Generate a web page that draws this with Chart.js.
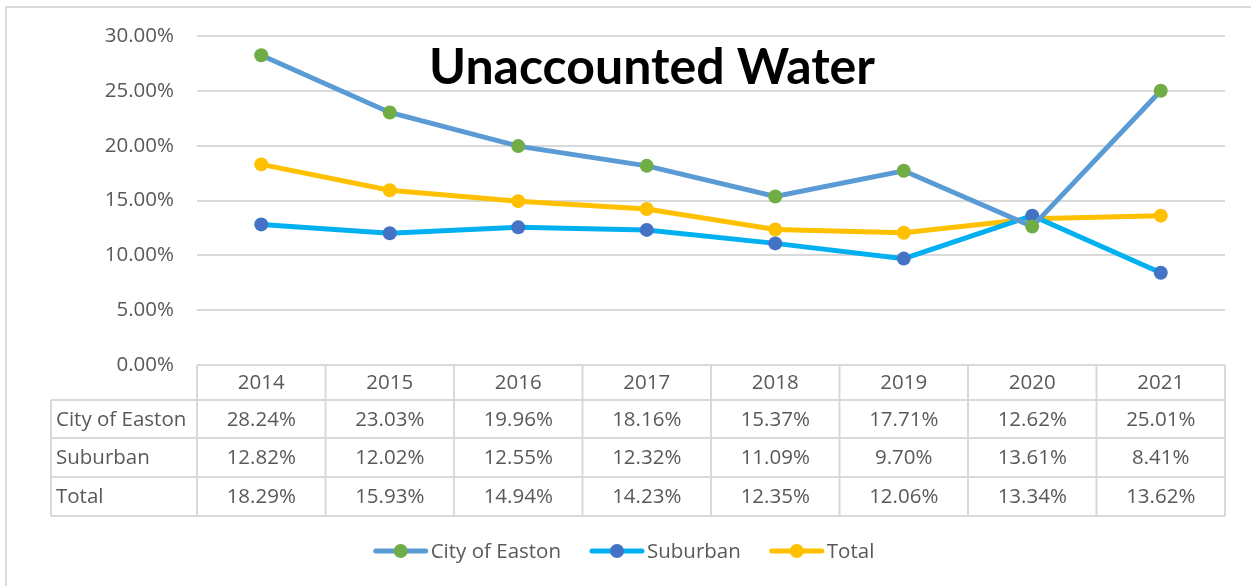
<!DOCTYPE html>
<html>
<head>
<meta charset="utf-8">
<script src="https://cdn.jsdelivr.net/npm/chart.js@4.4.1/dist/chart.umd.min.js"></script>
<style>
  html, body { margin: 0; padding: 0; background: #fff; }
  #wrap { width: 1251px; height: 586px; }
</style>
</head>
<body>
<div id="wrap"><canvas id="mainChart" width="1251" height="586"></canvas></div>
<script>
// Data
const years = ['2014', '2015', '2016', '2017', '2018', '2019', '2020', '2021'];
const cityOfEaston = [28.24, 23.03, 19.96, 18.16, 15.37, 17.71, 12.62, 25.01];
const suburban = [12.82, 12.02, 12.55, 12.32, 11.09, 9.70, 13.61, 8.41];
const total = [18.29, 15.93, 14.94, 14.23, 12.35, 12.06, 13.34, 13.62];
const yTicks = [0, 5, 10, 15, 20, 25, 30];

const seriesNames = ['City of Easton', 'Suburban', 'Total'];
const lineColors = ['#5B9BD5', '#00B0F0', '#FFC000'];
const markerColors = ['#70AD47', '#4472C4', '#FFC000'];
const seriesData = [cityOfEaston, suburban, total];

const textColor = '#595959';
const gridColor = '#D9D9D9';
const fontFamily = '"Open Sans", Lato, sans-serif';
const titleFont = 'Lato, "Open Sans", sans-serif';

function pct(v) { return v.toFixed(2) + '%'; }

// Title, data table, legend and outer frame
const excelExtras = {
    id: 'excelExtras',
    beforeDraw(chart) {
        const c = chart.ctx;
        c.save();
        c.strokeStyle = gridColor;
        c.lineWidth = 2;
        c.strokeRect(6, 7, 1300, 700);
        c.restore();
    },
    afterDraw(chart) {
        const c = chart.ctx;
        const area = chart.chartArea;
        const xs = chart.scales.x;
        const colW = (area.right - area.left) / years.length;
        const labelLeft = 51;
        const rowTops = [area.bottom, 400, 438, 477, 516];

        c.save();
        // title
        c.fillStyle = '#000';
        c.font = 'bold 50px ' + titleFont;
        c.textAlign = 'center';
        c.textBaseline = 'alphabetic';
        c.fillText('Unaccounted Water', 652, 84);

        // table grid
        c.strokeStyle = gridColor;
        c.lineWidth = 2;
        c.beginPath();
        c.moveTo(area.left, rowTops[0]); c.lineTo(area.right, rowTops[0]);
        for (let r = 1; r < rowTops.length; r++) {
            c.moveTo(labelLeft, rowTops[r]); c.lineTo(area.right, rowTops[r]);
        }
        c.moveTo(labelLeft, rowTops[1]); c.lineTo(labelLeft, rowTops[4]);
        for (let i = 0; i <= years.length; i++) {
            const x = area.left + i * colW;
            c.moveTo(x, rowTops[0]); c.lineTo(x, rowTops[4]);
        }
        c.stroke();

        // table text
        c.fillStyle = textColor;
        c.font = '20.5px ' + fontFamily;
        c.textBaseline = 'middle';
        c.textAlign = 'center';
        years.forEach((y, i) => {
            c.fillText(y, xs.getPixelForValue(i), (rowTops[0] + rowTops[1]) / 2 + 1);
        });
        seriesData.forEach((arr, r) => {
            const cy = (rowTops[r + 1] + rowTops[r + 2]) / 2 + 1;
            c.textAlign = 'left';
            c.fillText(seriesNames[r], labelLeft + 5, cy);
            c.textAlign = 'center';
            arr.forEach((v, i) => c.fillText(pct(v), xs.getPixelForValue(i), cy));
        });

        // legend
        const legendY = 551;
        const lineLen = 54, gap = 3, itemGap = 29;
        const widths = seriesNames.map(n => lineLen + gap + c.measureText(n).width);
        const totalW = widths.reduce((a, b) => a + b, 0) + itemGap * (widths.length - 1);
        let lx = 624 - totalW / 2;
        seriesNames.forEach((n, i) => {
            c.strokeStyle = lineColors[i];
            c.lineWidth = 5;
            c.lineCap = 'round';
            c.beginPath();
            c.moveTo(lx + 2, legendY); c.lineTo(lx + lineLen - 2, legendY);
            c.stroke();
            c.fillStyle = markerColors[i];
            c.beginPath();
            c.arc(lx + lineLen / 2, legendY, 7, 0, Math.PI * 2);
            c.fill();
            c.fillStyle = textColor;
            c.textAlign = 'left';
            c.fillText(n, lx + lineLen + gap, legendY + 1);
            lx += widths[i] + itemGap;
        });
        c.restore();
    }
};

const ctx = document.getElementById('mainChart').getContext('2d');
new Chart(ctx, {
    type: 'line',
    data: {
        labels: years,
        datasets: seriesNames.map((name, i) => ({
            label: name,
            data: seriesData[i],
            borderColor: lineColors[i],
            backgroundColor: markerColors[i],
            pointBackgroundColor: markerColors[i],
            pointBorderColor: markerColors[i],
            pointBorderWidth: 0,
            pointRadius: 7,
            borderWidth: 5,
            tension: 0
        }))
    },
    options: {
        responsive: false,
        animation: false,
        layout: { padding: { left: 0, top: 36, right: 26, bottom: 221 } },
        plugins: {
            legend: { display: false },
            title: { display: false },
            tooltip: { enabled: false }
        },
        scales: {
            x: {
                offset: true,
                grid: { display: false },
                border: { display: false },
                ticks: { display: false },
                afterFit(s) { s.height = 0; }
            },
            y: {
                min: 0,
                max: 30,
                afterFit(s) { s.width = 197; },
                afterBuildTicks(s) { s.ticks = yTicks.map(v => ({ value: v })); },
                grid: { color: gridColor, lineWidth: 2, drawTicks: false },
                border: { display: false },
                ticks: {
                    padding: 23,
                    color: textColor,
                    font: { family: fontFamily, size: 20.5 },
                    callback: v => pct(v)
                }
            }
        }
    },
    plugins: [excelExtras]
});
</script>
</body>
</html>
